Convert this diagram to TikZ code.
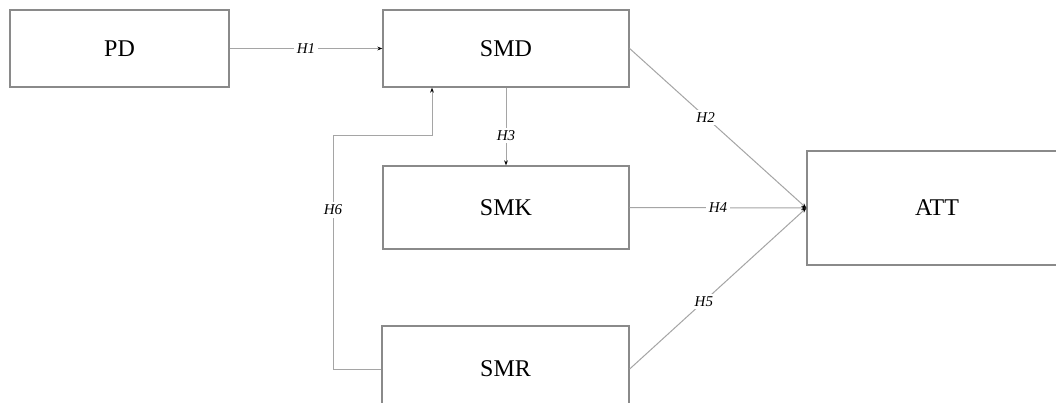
\documentclass[tikz,border=0pt]{standalone}
\usepackage{fontspec}
\setmainfont{Liberation Serif}
\usetikzlibrary{arrows.meta}
\definecolor{boxgray}{HTML}{8A8A8A}
\definecolor{linegray}{HTML}{A5A5A5}
\begin{document}
\begin{tikzpicture}[x=1pt,y=-1pt,
  box/.style={draw=boxgray,line width=1.3pt,fill=white,inner sep=0pt,
    font=\fontsize{24}{28}\selectfont},
  conn/.style={draw=linegray,line width=1pt,
    -{Stealth[length=5pt,width=3.8pt,black]}},
  hyp/.style={fill=white,inner sep=2.5pt,font=\fontsize{15}{17}\selectfont\itshape}]
\useasboundingbox (0,0) rectangle (1056,402);
\clip (0,0) rectangle (1056,402);
\fill[white] (0,0) rectangle (1056,402);
\node[box,minimum width=219pt,minimum height=77pt] (PD) at (119.5,48.5) {PD};
\node[box,minimum width=246pt,minimum height=77pt] (SMD) at (506,48.5) {SMD};
\node[box,minimum width=246pt,minimum height=83pt] (SMK) at (506,207.5) {SMK};
\node[box,minimum width=247pt,minimum height=86pt] (SMR) at (505.5,369) {SMR};
\node[box,minimum width=260pt,minimum height=114pt] (ATT) at (937,208) {ATT};
\coordinate (h6a) at (333,135);
\coordinate (h6b) at (432,135);
\draw[conn] (PD.east) -- node[hyp]{H1} (SMD.west);
\draw[conn] (SMD.south) -- node[hyp,pos=0.62]{H3} (SMK.north);
\draw[conn] (SMK.east) -- node[hyp]{H4} (ATT.west);
\draw[conn] (SMD.east) -- node[hyp,pos=0.43]{H2} (ATT.west);
\draw[conn] (SMR.east) -- node[hyp,pos=0.42]{H5} (ATT.west);
\draw[conn] (SMR.west) -| (h6a) -- (h6b) -- (h6b |- SMD.south);
\node[hyp] (H6) at (333,210) {H6};
\end{tikzpicture}
\end{document}
